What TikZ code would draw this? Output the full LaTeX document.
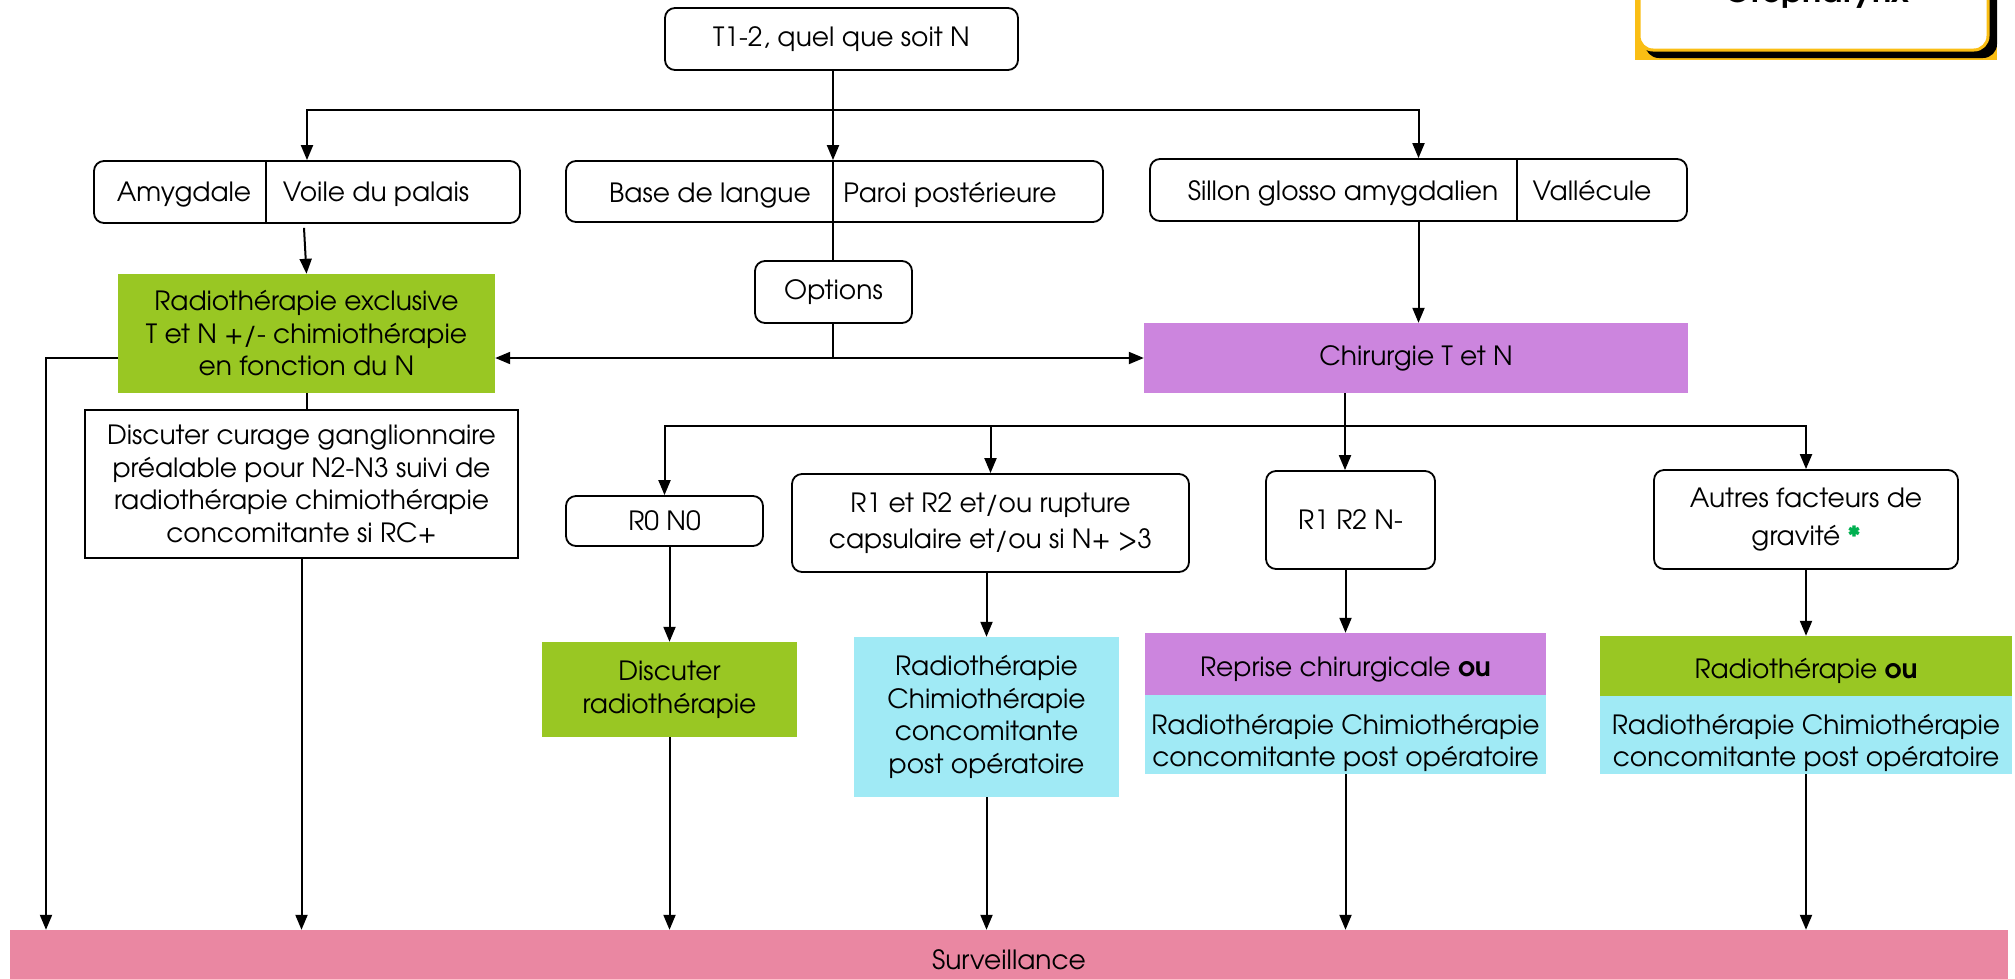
\documentclass[tikz,border=0pt]{standalone}
\usepackage{fontspec}
\setmainfont{TeX Gyre Adventor}
\usetikzlibrary{arrows.meta,calc}
\definecolor{cgreen}{RGB}{153,199,35}
\definecolor{cpurple}{RGB}{204,133,222}
\definecolor{ccyan}{RGB}{160,234,245}
\definecolor{cpink}{RGB}{234,135,162}
\definecolor{cyellow}{RGB}{250,190,20}
\definecolor{cstar}{RGB}{0,176,80}
\begin{document}
\begin{tikzpicture}[x=1pt,y=-1pt,
  font=\fontsize{26.5}{32.5}\selectfont,
  rbox/.style={draw, line width=1.8pt, rounded corners=10pt, inner sep=0pt, align=center},
  sbox/.style={draw, line width=1.8pt, inner sep=0pt, align=center},
  fbox/.style={inner sep=0pt, align=center},
  lbl/.style={inner sep=0pt, anchor=base},
  txt/.style={inner sep=0pt, align=center},
  ln/.style={line width=2pt},
  arr/.style={line width=2pt, -{Triangle[length=15pt,width=12pt]}},
  dbl/.style={line width=2pt, {Triangle[length=15pt,width=12pt]}-{Triangle[length=15pt,width=12pt]}}]
\useasboundingbox (0,0) rectangle (2015,978);

% title box (cut off)
\fill[cyellow] (1635,-20) rectangle (1997,60);
\fill[black, rounded corners=14pt] (1645,-20) rectangle (1997,58);
\draw[cyellow, fill=white, line width=3pt, rounded corners=14pt] (1639,-30) rectangle (1988,50);
\node[inner sep=0pt, anchor=base, font=\fontsize{32}{36}\selectfont\bfseries] (oro) at (1817,2) {Oropharynx};

% top
\node[rbox, minimum width=353pt, minimum height=62pt] (top) at (841.5,39) {T1-2, quel que soit N};

% level 2
\node[rbox, minimum width=426pt, minimum height=62pt] (amyg) at (307,192) {};
\node[lbl] (amygA) at (184,201) {Amygdale};
\node[lbl] (amygB) at (376,201) {Voile du palais};
\draw[line width=1.8pt] (266,161) -- (266,223);

\node[rbox, minimum width=537pt, minimum height=61pt] (base) at (834.5,191.5) {};
\node[lbl] (baseA) at (710,202) {Base de langue};
\node[lbl] (baseB) at (950,202) {Paroi postérieure};

\node[rbox, minimum width=537pt, minimum height=62pt] (sillon) at (1418.5,190) {};
\node[lbl] (sillonA) at (1343,200) {Sillon glosso amygdalien};
\node[lbl] (sillonB) at (1592,200) {Vallécule};
\draw[line width=1.8pt] (1517,159) -- (1517,221);

\node[rbox, minimum width=157pt, minimum height=62pt] (options) at (833.5,292) {Options};

% level 3
\node[fbox, fill=cgreen, minimum width=377pt, minimum height=119pt] (radio) at (306.5,333.5)
  {Radiothérapie exclusive\\T et N +/- chimiothérapie\\en fonction du N};
\node[fbox, fill=cpurple, minimum width=544pt, minimum height=70pt] (chir) at (1416,358) {Chirurgie T et N};
\node[sbox, minimum width=433pt, minimum height=148pt] (curage) at (301.5,484)
  {Discuter curage ganglionnaire\\préalable pour N2-N3 suivi de\\radiothérapie chimiothérapie\\concomitante si RC+};

% level 4
\node[rbox, minimum width=197pt, minimum height=50pt] (r0) at (664.5,521) {R0 N0};
\node[rbox, minimum width=397pt, minimum height=98pt, font=\fontsize{26.5}{36}\selectfont] (r1) at (990.5,523) {R1 et R2 et/ou rupture\\capsulaire et/ou si N+ >3};
\node[rbox, minimum width=169pt, minimum height=98pt] (r1n) at (1350.5,520) {R1 R2 N-};
\node[rbox, minimum width=304pt, minimum height=99pt, font=\fontsize{26.5}{38}\selectfont] (autres) at (1806,519.5) {Autres facteurs de\\gravité \textcolor{cstar}{\bfseries *}};

% level 5
\node[fbox, fill=cgreen, minimum width=255pt, minimum height=95pt] (discr) at (669.5,689.5) {Discuter\\radiothérapie};
\node[fbox, fill=ccyan, minimum width=265pt, minimum height=160pt] (rcc) at (986.5,717)
  {Radiothérapie\\Chimiothérapie\\concomitante\\post opératoire};
\node[fbox, fill=cpurple, minimum width=401pt, minimum height=62pt] (reprise) at (1345.5,664) {};
\node[txt] (repriseT) at (1345.5,670) {Reprise chirurgicale \textbf{ou}};
\node[fbox, fill=ccyan, minimum width=401pt, minimum height=79pt] (rcc2) at (1345.5,734.5) {};
\node[txt] (rcc2T) at (1345.5,743) {Radiothérapie Chimiothérapie\\concomitante post opératoire};
\node[fbox, fill=cgreen, minimum width=412pt, minimum height=60pt] (rad2) at (1806,666) {};
\node[txt] (rad2T) at (1806,671) {Radiothérapie \textbf{ou}};
\node[fbox, fill=ccyan, minimum width=412pt, minimum height=78pt] (rcc3) at (1806,735) {};
\node[txt] (rcc3T) at (1806,743) {Radiothérapie Chimiothérapie\\concomitante post opératoire};

% bottom
\node[fbox, fill=cpink, minimum width=1998pt, minimum height=60pt] (surv) at (1009,960) {Surveillance};

% connectors
\coordinate (j1) at (833,110);
\coordinate (j2) at (1345,426);
\coordinate (L) at (46,0);

\draw[ln] (j1 |- top.south) -- (j1);
\draw[arr] (j1) -| (amyg.north);
\draw[arr] (j1) -| (sillon.north);
\draw[arr] (j1) -- (j1 |- base.north);
\draw[line width=1.8pt] (j1 |- base.north) -- (j1 |- base.south);
\draw[ln] (j1 |- base.south) -- (j1 |- options.north);
\draw[ln] (j1 |- options.south) -- (j1 |- chir.west);

\draw[arr] ($(amyg.south)+(-3,4)$) -- (radio.north);
\draw[arr] (sillon.south) -- (sillon.south |- chir.north);
\draw[dbl] (radio.east |- chir.west) -- (chir.west);
\draw[arr] (radio.west |- chir.west) -| (L |- surv.north);
\draw[ln] (radio.south) -- (radio.south |- curage.north);
\draw[arr] (curage.south) -- (curage.south |- surv.north);

\draw[ln] (j2 |- chir.south) -- (j2);
\draw[arr] (j2) -- (j2 |- r1n.north);
\draw[arr] (j2) -| (r0.north);
\draw[arr] (j2) -| (r1.north);
\draw[arr] (j2) -| (autres.north);

\draw[arr] (discr.north |- r0.south) -- (discr.north);
\draw[arr] (discr.south) -- (discr.south |- surv.north);
\draw[arr] (rcc.north |- r1.south) -- (rcc.north);
\draw[arr] (rcc.south) -- (rcc.south |- surv.north);
\draw[arr] (reprise.north |- r1n.south) -- (reprise.north);
\draw[arr] (rcc2.south) -- (rcc2.south |- surv.north);
\draw[arr] (autres.south) -- (rad2.north);
\draw[arr] (rcc3.south) -- (rcc3.south |- surv.north);
\end{tikzpicture}
\end{document}
